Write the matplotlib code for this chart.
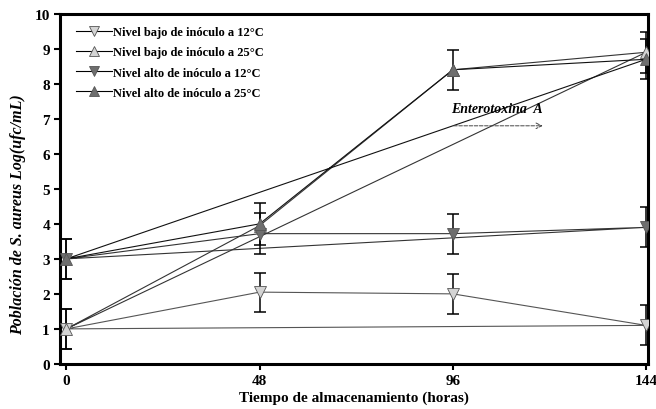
import numpy as np
import matplotlib
matplotlib.use("Agg")
import matplotlib.pyplot as plt

plt.rcParams['font.family'] = ['Liberation Serif', 'DejaVu Serif']
plt.rcParams['font.weight'] = 'bold'

horas = [0, 48, 96, 144]

bajo_12 = [1.0, 2.05, 2.0, 1.1]
bajo_12_err = [0.58, 0.56, 0.57, 0.57]
bajo_25 = [1.0, 3.95, 8.4, 8.9]
bajo_25_err = [0.58, 0.0, 0.0, 0.58]
alto_12 = [3.0, 3.72, 3.72, 3.9]
alto_12_err = [0.57, 0.58, 0.57, 0.57]
alto_25 = [3.0, 4.0, 8.4, 8.7]
alto_25_err = [0.57, 0.6, 0.57, 0.57]

etiquetas = ["Nivel bajo de inóculo a 12°C", "Nivel bajo de inóculo a 25°C",
             "Nivel alto de inóculo a 12°C", "Nivel alto de inóculo a 25°C"]

fig = plt.figure(figsize=(6.56, 4.10), dpi=100)
ax = fig.add_axes([0.092, 0.11, 0.896, 0.854])

series = [
    (bajo_12, bajo_12_err, 'v', '#d4d4d4', '#555555'),
    (bajo_25, bajo_25_err, '^', '#d4d4d4', '#333333'),
    (alto_12, alto_12_err, 'v', '#6e6e6e', '#333333'),
    (alto_25, alto_25_err, '^', '#6e6e6e', '#111111'),
]

handles = []
for (y, err, mk, fc, lc), lab in zip(series, etiquetas):
    # the original joins the last point back to the first one
    xs = horas + [horas[0]]
    ys = y + [y[0]]
    ax.plot(xs, ys, color=lc, lw=0.8, zorder=2)
    e = np.array(err)
    idx = e > 0
    ax.errorbar(np.array(horas)[idx], np.array(y)[idx], yerr=e[idx], fmt='none',
                ecolor='black', elinewidth=1.1, capsize=4, capthick=1.1, zorder=3)
    ax.plot(horas, y, linestyle='none', marker=mk, markersize=8,
            markerfacecolor=fc, markeredgecolor='#555555', markeredgewidth=0.6, zorder=4)
    h, = ax.plot([], [], color='black', lw=0.8, marker=mk, markersize=7,
                 markerfacecolor=fc, markeredgecolor='#555555', markeredgewidth=0.6)
    handles.append(h)

ax.legend(handles, etiquetas, loc='upper left', frameon=False,
          handlelength=2.9, handletextpad=0.1, labelspacing=0.65,
          borderaxespad=0.6, bbox_to_anchor=(0.005, 1.0),
          prop={'weight': 'bold', 'size': 9})

# Enterotoxina A
ax.text(107, 7.3, "Enterotoxina  A", ha='center', va='center', fontsize=10,
        style='italic', fontweight='bold')
ax.annotate("", xy=(119, 6.8), xytext=(95.5, 6.8),
            arrowprops=dict(arrowstyle='->', linestyle='--', color='#444444', lw=0.7))

ax.set_xlim(-1.5, 144.5)
ax.set_ylim(0, 10)
ax.set_xticks(horas)
ax.set_yticks(range(0, 11))
ax.tick_params(axis='both', direction='out', length=4, width=1.5, labelsize=11)
for t in ax.get_xticklabels() + ax.get_yticklabels():
    t.set_fontweight('bold')
for s in ax.spines.values():
    s.set_linewidth(2.2)

ax.set_xlabel("Tiempo de almacenamiento (horas)", fontsize=11, fontweight='bold', labelpad=2)
ax.set_ylabel("Población de S. aureus Log(ufc/mL)", fontsize=11.5, fontweight='bold',
              style='italic')
ax.yaxis.set_label_coords(-0.058, 0.43)

fig.savefig("out.png", dpi=100)
